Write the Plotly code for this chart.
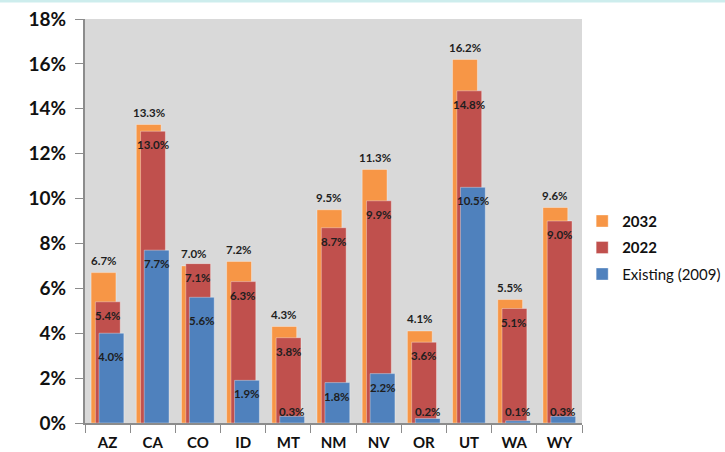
import plotly.graph_objects as go

states = ["AZ", "CA", "CO", "ID", "MT", "NM", "NV", "OR", "UT", "WA", "WY"]
v2032 = [6.7, 13.3, 7.0, 7.2, 4.3, 9.5, 11.3, 4.1, 16.2, 5.5, 9.6]
v2022 = [5.4, 13.0, 7.1, 6.3, 3.8, 8.7, 9.9, 3.6, 14.8, 5.1, 9.0]
v2009 = [4.0, 7.7, 5.6, 1.9, 0.3, 1.8, 2.2, 0.2, 10.5, 0.1, 0.3]
series_names = ["<b>2032</b>", "<b>2022</b>", "Existing (2009)"]
y_ticks = [0, 2, 4, 6, 8, 10, 12, 14, 16, 18]

# ---- style ----
W, H = 725, 452
ML, MR, MT, MB = 85, 143, 19, 29
colors = ["#F79646", "#C0504D", "#4F81BD"]
bar_w = 0.55
offsets = [-0.365, -0.27, -0.19]
font_family = "Lato, 'Open Sans', sans-serif"
label_color = "#1E1E1E"
# manual nudges (px) of a few labels, as in the original
blue_label_nudge = {"AZ": -10, "CO": -10}

plot_w = W - ML - MR
plot_h = H - MT - MB
px_per_cat = plot_w / len(states)
px_per_unit = plot_h / 18.0

fig = go.Figure()
for i, (vals, name, col, off) in enumerate(zip([v2032, v2022, v2009], series_names, colors, offsets)):
    fig.add_trace(go.Bar(
        x=states, y=vals, name=name, width=bar_w, offset=off, legendgroup=f"g{i}",
        marker=dict(color=col, line=dict(color="rgba(255,255,255,0.35)", width=1)),
        hoverinfo="x+y",
    ))

annotations = []
for i, s in enumerate(states):
    xs = (offsets[0] + bar_w / 2) * px_per_cat
    annotations.append(dict(x=s, y=v2032[i], text=f"<b>{v2032[i]:.1f}%</b>", showarrow=False,
                            xshift=xs, yshift=12, yanchor="middle"))
    xs = (offsets[1] + bar_w / 2) * px_per_cat
    annotations.append(dict(x=s, y=v2022[i], text=f"<b>{v2022[i]:.1f}%</b>", showarrow=False,
                            xshift=xs, yshift=-13.5, yanchor="middle"))
    xs = (offsets[2] + bar_w / 2) * px_per_cat
    if v2009[i] * px_per_unit < 20:
        annotations.append(dict(x=s, y=0, text=f"<b>{v2009[i]:.1f}%</b>", showarrow=False,
                                xshift=xs, yshift=11.5, yanchor="middle"))
    else:
        annotations.append(dict(x=s, y=v2009[i], text=f"<b>{v2009[i]:.1f}%</b>", showarrow=False,
                                xshift=xs, yshift=-13.5 + blue_label_nudge.get(s, 0), yanchor="middle"))
for a in annotations:
    a["font"] = dict(family=font_family, size=11.5, color=label_color)

fig.update_layout(
    width=W, height=H,
    margin=dict(l=ML, r=MR, t=MT, b=MB, pad=0, autoexpand=False),
    barmode="overlay",
    paper_bgcolor="white",
    plot_bgcolor="#D9D9D9",
    font=dict(family=font_family, color="#111111"),
    annotations=annotations,
    showlegend=True,
    legend=dict(xref="container", yref="container", x=0.803, y=0.547,
                xanchor="left", yanchor="top", traceorder="grouped",
                font=dict(family=font_family, size=15, color="#111111"),
                bgcolor="rgba(0,0,0,0)", itemwidth=30, tracegroupgap=4),
    shapes=[dict(type="rect", xref="paper", yref="paper", x0=-0.3, x1=1.4,
                 y0=(plot_h + MT - 2.5) / plot_h, y1=(plot_h + MT + 1) / plot_h,
                 fillcolor="#CDEDED", line=dict(width=0), layer="above")],
)
fig.update_xaxes(
    type="category", showgrid=False, showline=True, linecolor="#8C8C8C", linewidth=1.5,
    ticks="outside", tickson="boundaries", ticklen=8, tickcolor="#8C8C8C", tickwidth=1,
    tickfont=dict(family=font_family, size=15, color="#111111"),
    tickprefix="<b>", ticksuffix="</b>", automargin=False, ticklabelstandoff=5,
)
fig.update_yaxes(
    range=[0, 18], tickvals=y_ticks, ticktext=[f"<b>{t}%</b>" for t in y_ticks],
    showgrid=False, zeroline=False, showline=True, linecolor="#8C8C8C", linewidth=2,
    ticks="outside", ticklen=8, tickcolor="#8C8C8C", tickwidth=1,
    tickfont=dict(family=font_family, size=19, color="#111111"), automargin=False,
    ticklabelstandoff=5,
)

fig.write_html("out.html", config={"displayModeBar": False},
               post_script="document.body.style.margin='0';")
